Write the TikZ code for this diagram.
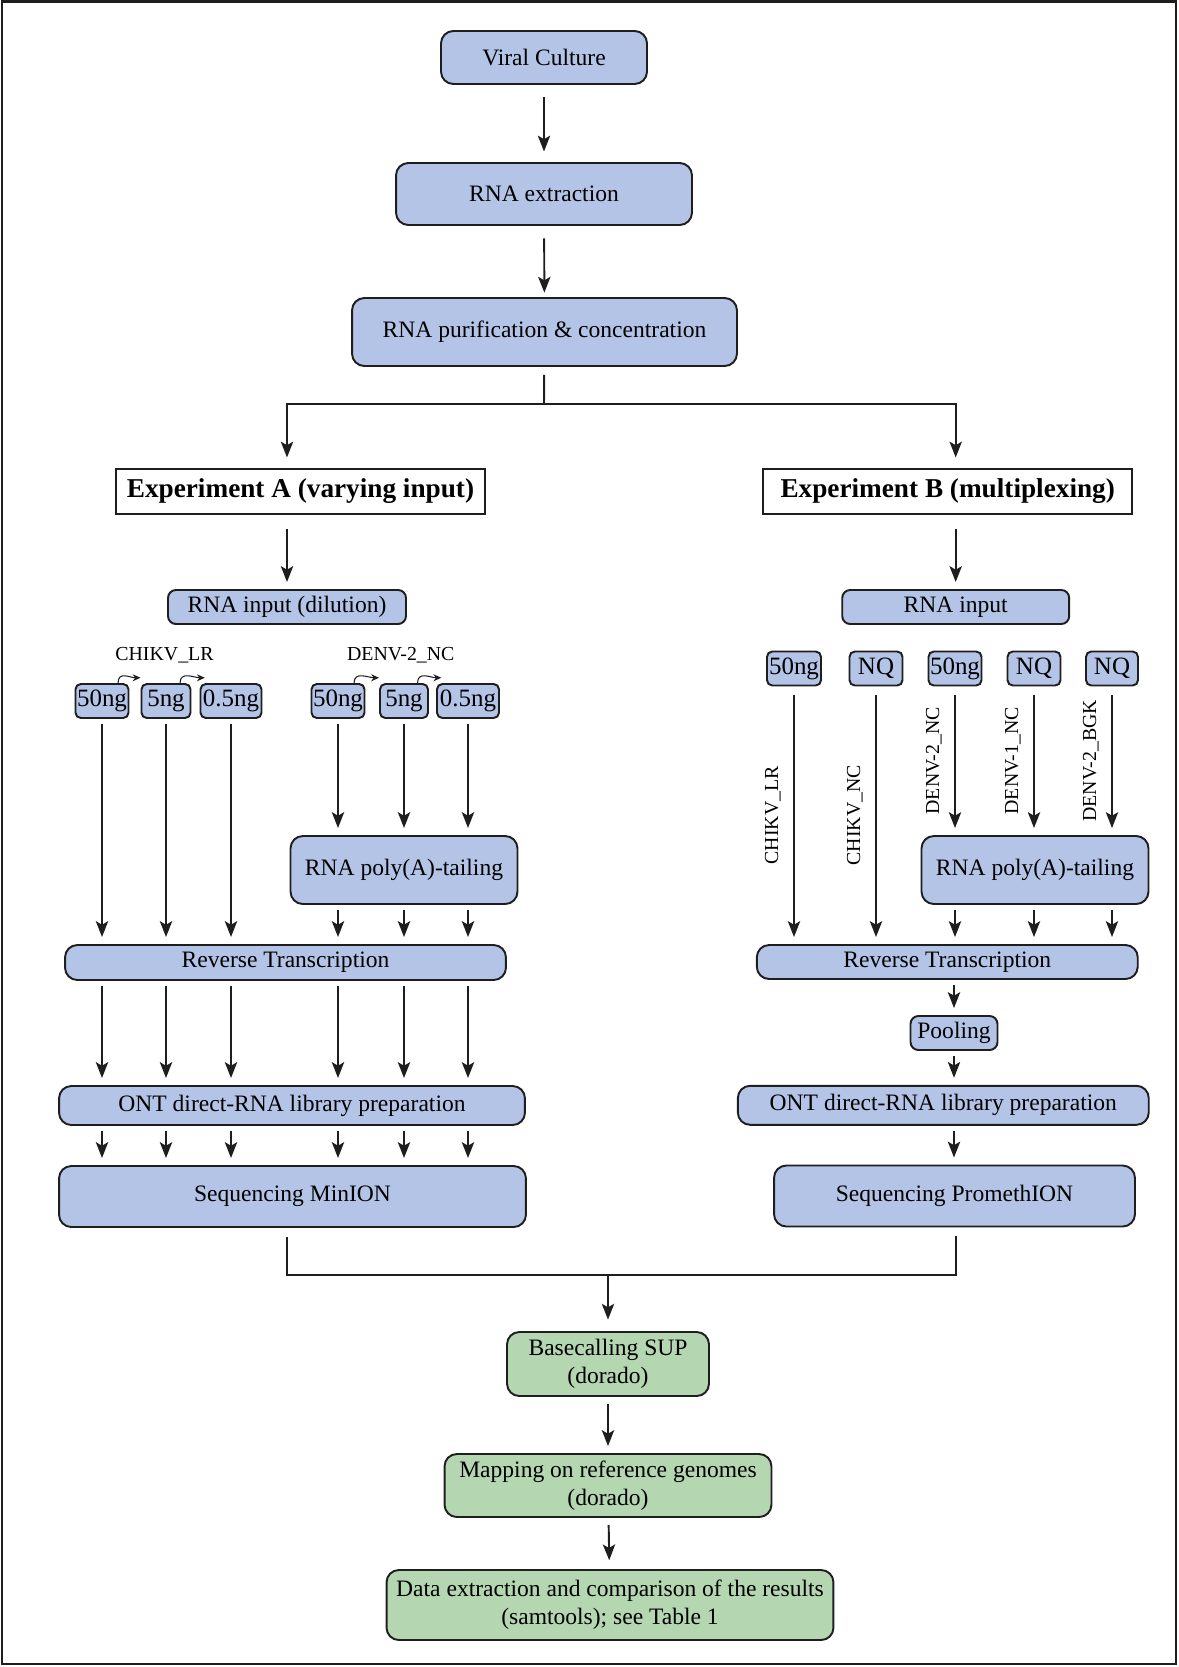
\documentclass[tikz,border=0pt]{standalone}
\usepackage{fontspec}
\setmainfont{Liberation Serif}
\usetikzlibrary{arrows.meta}
\definecolor{blu}{RGB}{180,196,231}
\definecolor{grn}{RGB}{180,214,177}
\definecolor{ink}{RGB}{30,30,30}
\tikzset{
  box/.style={draw=ink,fill=blu,line width=1.1pt,rounded corners=7pt,inner sep=0pt,align=center,font=\fontsize{13.4}{16}\selectfont},
  gbox/.style={box,fill=grn},
  ngbox/.style={box,rounded corners=3pt,minimum height=0.68cm,font=\fontsize{14.2}{16}\selectfont},
  hbox/.style={draw=ink,fill=white,line width=1.1pt,inner sep=0pt,minimum width=7.38cm,minimum height=0.9cm,font=\fontsize{15.5}{18}\bfseries\selectfont},
  lab/.style={font=\fontsize{11.3}{13}\selectfont,inner sep=0pt},
  rlab/.style={lab,rotate=90,anchor=south,inner sep=7pt},
  line/.style={draw=ink,line width=1.1pt},
  arr/.style={line,-{Stealth[length=9pt,width=7pt,inset=2pt]},shorten <=3pt,shorten >=4pt},
  hop/.style={draw=ink,line width=0.6pt,-{Stealth[length=4.5pt,width=4pt]}}
}
\begin{document}
\begin{tikzpicture}[x=0.02cm,y=-0.02cm]
\useasboundingbox (0,0) rectangle (1179,1667);
\draw[ink,line width=1.4pt] (2,1.5) rectangle (1176,1664);
% common trunk
\node[box,minimum width=4.12cm,minimum height=1.06cm] (viral) at (544,57.5) {Viral Culture};
\node[box,minimum width=5.92cm,minimum height=1.24cm] (extr) at (544,194) {RNA extraction};
\node[box,minimum width=7.70cm,minimum height=1.36cm] (purif) at (544.5,332) {RNA purification \& concentration};
\node[hbox] (expA) at (300.5,491.5) {Experiment A (varying input)};
\node[hbox] (expB) at (947.7,491.5) {Experiment B (multiplexing)};
\node[box,rounded corners=4.5pt,minimum width=4.76cm,minimum height=0.68cm] (inA) at (287,607) {RNA input (dilution)};
\node[box,rounded corners=4.5pt,minimum width=4.54cm,minimum height=0.68cm] (inB) at (955.7,607) {RNA input};
\draw[arr,shorten <=7pt,shorten >=6pt] (viral) -- (extr);
\draw[arr,shorten <=7pt,shorten >=2.5pt] (extr) -- (purif);
\coordinate (split) at (544,404);
\draw[arr,shorten <=4.5pt,shorten >=6pt] (purif) -- (split) -| (inA.north |- expA.north);
\draw[arr,shorten <=0pt,shorten >=6pt] (split) -| (inB.north |- expB.north);
\draw[arr,shorten <=8pt] (expA.south -| inA) -- (inA);
\draw[arr,shorten <=8pt] (expB.south -| inB) -- (inB);
% experiment A
\node[lab] (labC) at (164.5,655) {CHIKV\_LR};
\node[lab] (labD) at (400.8,655) {DENV-2\_NC};
\node[ngbox,minimum width=1.06cm] (a1) at (102,701) {50ng};
\node[ngbox,minimum width=0.98cm] (a2) at (166,701) {5ng};
\node[ngbox,minimum width=1.22cm] (a3) at (231,701) {0.5ng};
\node[ngbox,minimum width=1.06cm] (d1) at (338,701) {50ng};
\node[ngbox,minimum width=0.96cm] (d2) at (404,701) {5ng};
\node[ngbox,minimum width=1.24cm] (d3) at (468,701) {0.5ng};
\draw[hop] ([xshift=-6.5pt]a1.north east) .. controls +(0,7pt) and +(-6pt,0) .. ([yshift=3pt]a2.north west);
\draw[hop] ([xshift=-6.5pt]a2.north east) .. controls +(0,7pt) and +(-6pt,0) .. ([xshift=3pt,yshift=3pt]a3.north west);
\draw[hop] ([xshift=-6.5pt]d1.north east) .. controls +(0,7pt) and +(-6pt,0) .. ([yshift=3pt]d2.north west);
\draw[hop] ([xshift=-6.5pt]d2.north east) .. controls +(0,7pt) and +(-6pt,0) .. ([xshift=3pt,yshift=3pt]d3.north west);
\node[box,minimum width=4.54cm,minimum height=1.36cm] (polyA) at (404,870) {RNA poly(A)-tailing};
\node[box,minimum width=8.82cm,minimum height=0.70cm] (rtA) at (285.5,962.5) {Reverse Transcription};
\node[box,minimum width=9.32cm,minimum height=0.78cm] (onA) at (292,1105.5) {ONT direct-RNA library preparation};
\node[box,minimum width=9.34cm,minimum height=1.22cm] (seqA) at (292.5,1196.5) {Sequencing MinION};
\foreach \c in {a1,a2,a3} \draw[arr] (\c) -- (\c |- rtA.north);
\foreach \c in {d1,d2,d3} {\draw[arr] (\c) -- (\c |- polyA.north); \draw[arr] (polyA.south -| \c) -- (rtA.north -| \c);}
\foreach \c in {a1,a2,a3,d1,d2,d3} {\draw[arr] (rtA.south -| \c) -- (onA.north -| \c); \draw[arr] (onA.south -| \c) -- (seqA.north -| \c);}
% experiment B
\node[ngbox,minimum width=1.08cm] (b1) at (794,668.5) {50ng};
\node[ngbox,minimum width=1.06cm] (b2) at (876,668.5) {NQ};
\node[ngbox,minimum width=1.06cm] (b3) at (955,668.5) {50ng};
\node[ngbox,minimum width=1.06cm] (b4) at (1034,668.5) {NQ};
\node[ngbox,minimum width=1.04cm] (b5) at (1112,668.5) {NQ};
\node[box,minimum width=4.54cm,minimum height=1.36cm] (polyB) at (1035,870) {RNA poly(A)-tailing};
\node[box,minimum width=7.62cm,minimum height=0.68cm] (rtB) at (947.3,962) {Reverse Transcription};
\node[box,rounded corners=4.5pt,minimum width=1.74cm,minimum height=0.68cm] (pool) at (954,1033) {Pooling};
\node[box,minimum width=8.22cm,minimum height=0.78cm] (onB) at (943.3,1105.3) {ONT direct-RNA library preparation};
\node[box,minimum width=7.22cm,minimum height=1.22cm] (seqB) at (954.5,1196) {Sequencing PromethION};
\draw[arr,shorten <=5pt] (b1) -- (b1 |- rtB.north) node[rlab,midway] {CHIKV\_LR};
\draw[arr,shorten <=5pt] (b2) -- (b2 |- rtB.north) node[rlab,midway] {CHIKV\_NC};
\draw[arr,shorten <=5pt] (b3) -- (b3 |- polyB.north) node[rlab,midway] {DENV-2\_NC};
\draw[arr,shorten <=5pt] (b4) -- (b4 |- polyB.north) node[rlab,midway] {DENV-1\_NC};
\draw[arr,shorten <=5pt] (b5) -- (b5 |- polyB.north) node[rlab,midway] {DENV-2\_BGK};
\foreach \c in {b3,b4,b5} \draw[arr] (polyB.south -| \c) -- (rtB.north -| \c);
\draw[arr] (rtB.south -| pool) -- (pool);
\draw[arr] (pool) -- (pool |- onB.north);
\draw[arr] (onB.south -| pool) -- (pool |- seqB.north);
% analysis
\node[gbox,minimum width=4.04cm,minimum height=1.28cm] (base) at (608,1364) {Basecalling SUP\\(dorado)};
\node[gbox,minimum width=6.54cm,minimum height=1.26cm] (map) at (608,1485.5) {Mapping on reference genomes\\(dorado)};
\node[gbox,minimum width=8.94cm,minimum height=1.40cm] (data) at (610,1605) {Data extraction and comparison of the results\\(samtools); see Table 1};
\coordinate (join) at (608,1275);
\draw[line,shorten <=5pt,shorten >=5pt] (seqA.south -| inA) |- (join) -| (seqB.south -| inB);
\draw[arr,shorten <=0pt,shorten >=6.5pt] (join) -- (base);
\draw[arr,shorten <=4pt] (base) -- (map);
\draw[arr,shorten <=4pt,shorten >=5pt] (map) -- (data);
\end{tikzpicture}
\end{document}
